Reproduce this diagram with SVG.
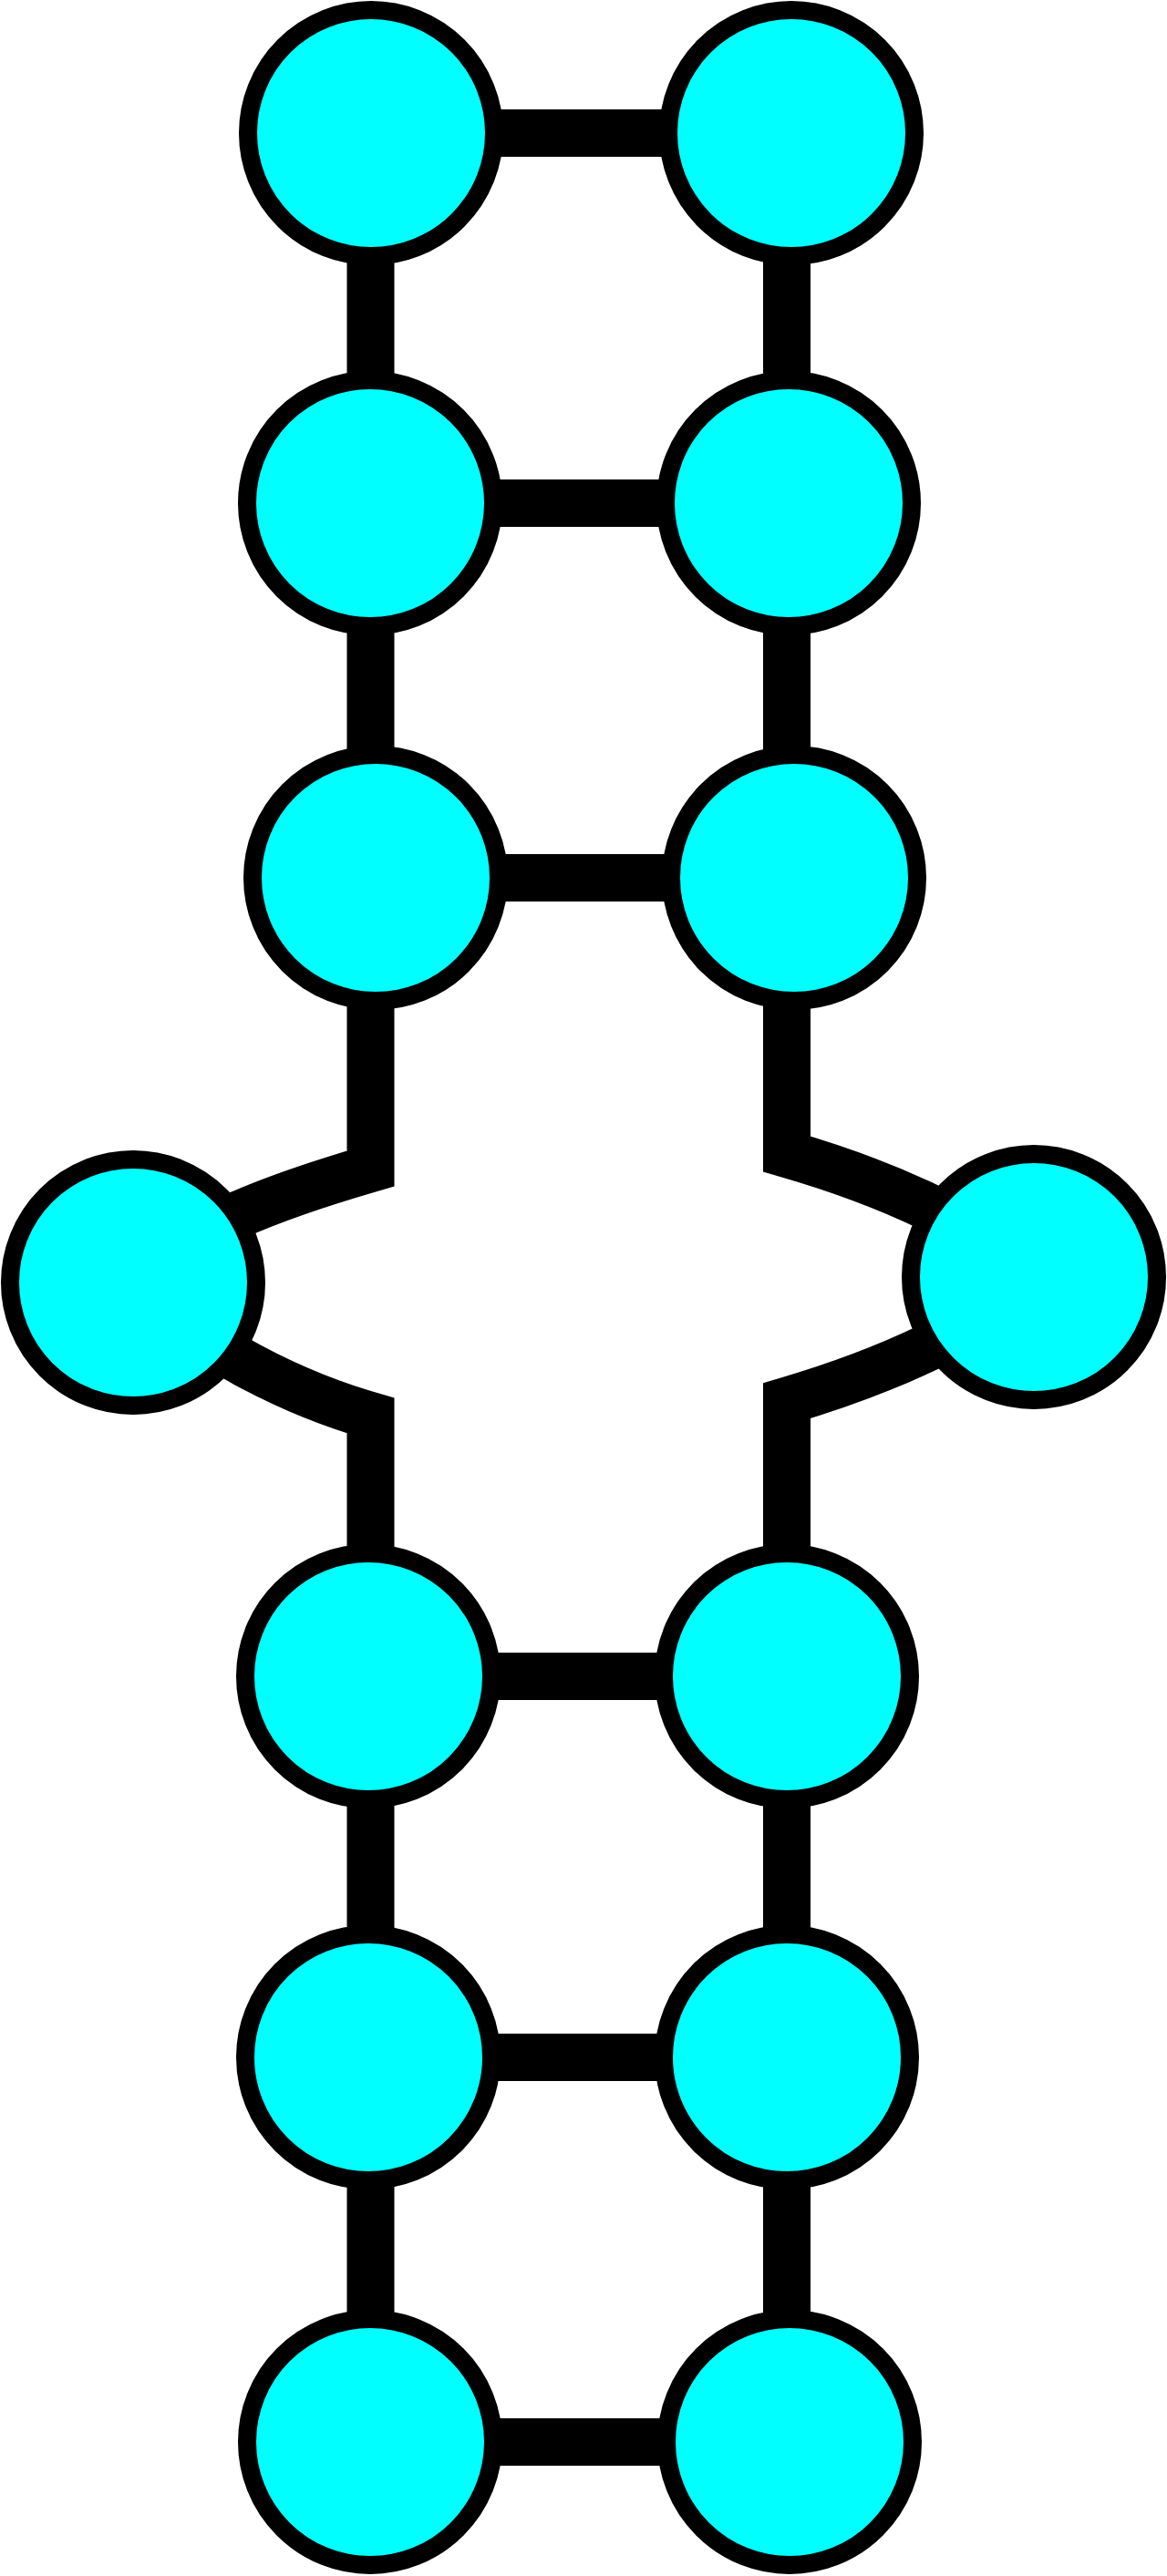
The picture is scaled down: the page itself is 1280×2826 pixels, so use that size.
<svg xmlns="http://www.w3.org/2000/svg" width="1280" height="2826" viewBox="0 0 1280 2826">
<style>
.edge{fill:none;stroke:#000;stroke-width:52;stroke-linejoin:miter}
.node{fill:#00ffff;stroke:#000;stroke-width:20}
</style>
<rect width="1280" height="2826" fill="#fff"/>
<g id="connectors">
<path class="edge" d="M407,146 H868"/>
<path class="edge" d="M406,552 H865"/>
<path class="edge" d="M412,963 H871"/>
<path class="edge" d="M404,1839 H863"/>
<path class="edge" d="M404,2257 H863"/>
<path class="edge" d="M406,2679 H866"/>
<path class="edge" d="M406.5,146 V552"/>
<path class="edge" d="M406.5,552 V963"/>
<path class="edge" d="M406.5,963 V1282 C300,1313 200,1350 146,1407"/>
<path class="edge" d="M146,1407 C200,1462 300,1522 406.5,1553 V1839"/>
<path class="edge" d="M406.5,1839 V2257"/>
<path class="edge" d="M406.5,2257 V2679"/>
<path class="edge" d="M863,146 V552"/>
<path class="edge" d="M863,552 V963"/>
<path class="edge" d="M863,963 V1266 C970,1297 1080,1345 1134,1401"/>
<path class="edge" d="M1134,1401 C1080,1457 970,1505 863,1536.7 V1839"/>
<path class="edge" d="M863,1839 V2257"/>
<path class="edge" d="M863,2257 V2679"/>
</g>
<g id="n1"><circle class="node" cx="407" cy="146" r="135"/></g>
<g id="n2"><circle class="node" cx="868" cy="146" r="135"/></g>
<g id="n3"><circle class="node" cx="406" cy="552" r="135"/></g>
<g id="n4"><circle class="node" cx="865" cy="552" r="135"/></g>
<g id="n5"><circle class="node" cx="412" cy="963" r="135"/></g>
<g id="n6"><circle class="node" cx="871" cy="963" r="135"/></g>
<g id="n7"><circle class="node" cx="146" cy="1407" r="135"/></g>
<g id="n8"><circle class="node" cx="1134" cy="1401" r="135"/></g>
<g id="n9"><circle class="node" cx="404" cy="1839" r="135"/></g>
<g id="n10"><circle class="node" cx="863" cy="1839" r="135"/></g>
<g id="n11"><circle class="node" cx="404" cy="2257" r="135"/></g>
<g id="n12"><circle class="node" cx="863" cy="2257" r="135"/></g>
<g id="n13"><circle class="node" cx="406" cy="2679" r="135"/></g>
<g id="n14"><circle class="node" cx="866" cy="2679" r="135"/></g>
</svg>
